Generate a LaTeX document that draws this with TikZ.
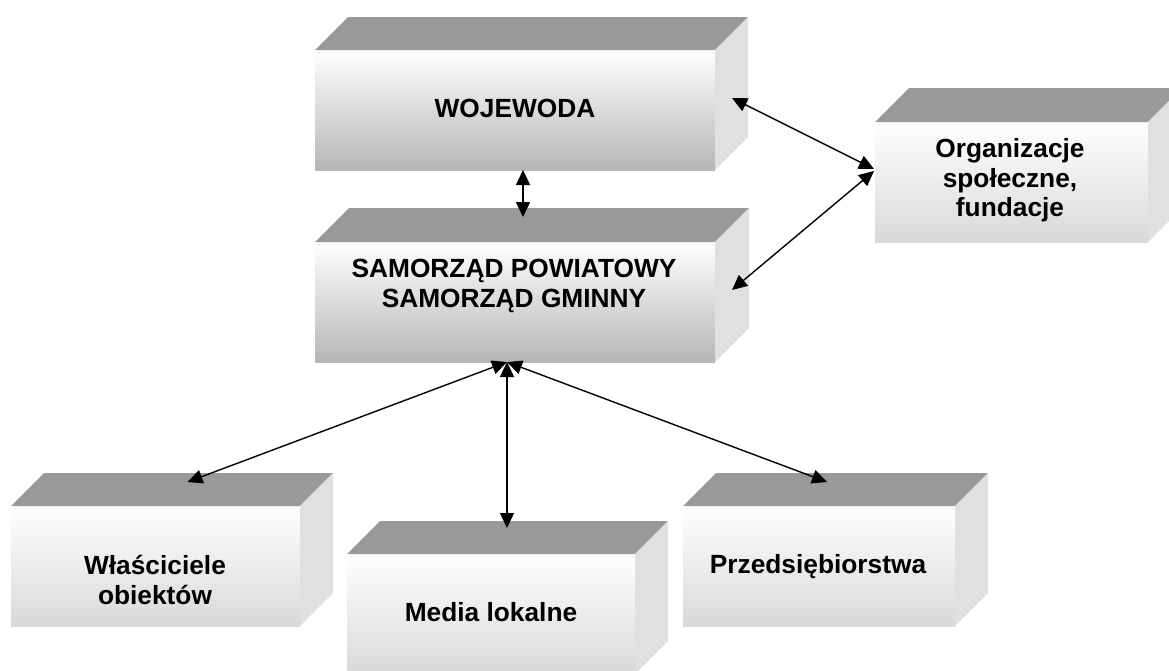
\documentclass[tikz,border=0pt]{standalone}
\usepackage{fontspec}
\setmainfont{Liberation Sans}
\usetikzlibrary{arrows.meta,calc}
\definecolor{topface}{HTML}{999999}
\definecolor{sideface}{HTML}{E0E0E0}
\definecolor{darkbottom}{HTML}{B6B6B6}
\definecolor{lightbottom}{HTML}{D9D9D9}
\tikzset{
  front/.style={rectangle, inner sep=0pt, outer sep=0pt, draw=none, anchor=north west},
  bigfront/.style={front, top color=white, bottom color=darkbottom, minimum width=400pt, minimum height=120pt},
  smallfront/.style={front, top color=white, bottom color=lightbottom, minimum height=120pt},
  lbl/.style={font=\bfseries\fontsize{26.3}{30}\selectfont, inner sep=0pt, anchor=base},
  biarrow/.style={{Triangle[length=15pt,width=14pt]}-{Triangle[length=15pt,width=14pt]}, line width=1.4pt, black},
}
\newcommand\boxfaces[2]{%
  \fill[topface] (#1.north west) -- ++(#2,-#2) -- ([shift={(#2,-#2)}]#1.north east) -- (#1.north east) -- cycle;
  \fill[sideface] (#1.north east) -- ++(#2,-#2) -- ([shift={(#2,-#2)}]#1.south east) -- (#1.south east) -- cycle;
}
\begin{document}
\begin{tikzpicture}[x=1pt,y=-1pt]
\useasboundingbox (0,0) rectangle (1169,670);
\clip (0,0) rectangle (1169,670);

% front faces
\node[bigfront] (wo) at (315,50) {};
\node[bigfront] (sam) at (315,242) {};
\node[smallfront, minimum width=273pt] (org) at (875,122) {};
\node[smallfront, minimum width=289pt] (wla) at (11,506) {};
\node[smallfront, minimum width=288pt] (med) at (347,554) {};
\node[smallfront, minimum width=272pt] (prz) at (683,506) {};

% top and side faces
\boxfaces{wo}{33}
\boxfaces{sam}{34}
\boxfaces{org}{34}
\boxfaces{wla}{33}
\boxfaces{med}{33}
\boxfaces{prz}{33}

% labels
\node[lbl] (wo-t) at (515,117) {WOJEWODA};
\node[lbl] (sam-t1) at (514,277) {SAMORZĄD POWIATOWY};
\node[lbl] (sam-t2) at (514,307) {SAMORZĄD GMINNY};
\node[lbl] (org-t1) at (1010,157) {Organizacje};
\node[lbl] (org-t2) at (1010,187) {społeczne,};
\node[lbl] (org-t3) at (1010,216) {fundacje};
\node[lbl] (wla-t1) at (155,574) {Właściciele};
\node[lbl] (wla-t2) at (155,604) {obiektów};
\node[lbl] (med-t) at (491,621) {Media lokalne};
\node[lbl] (prz-t) at (818,573) {Przedsiębiorstwa};

% connector ends
\coordinate (woB) at ([xshift=8]wo.south);
\coordinate (samT) at ([shift={(8,-25)}]sam.north);
\coordinate (woR) at ([shift={(17,-12)}]wo.east);
\coordinate (samR) at ([shift={(17,-12)}]sam.east);
\coordinate (orgL1) at ([shift={(-1,-13)}]org.west);
\coordinate (orgL2) at ([shift={(-1,-11)}]org.west);
\coordinate (samB) at ([xshift=-8]sam.south);
\coordinate (wlaT) at ([shift={(32,-24)}]wla.north);
\coordinate (medT) at ([shift={(16,-26)}]med.north);
\coordinate (przT) at ([shift={(8,-24)}]prz.north);

% connectors
\draw[biarrow] (woB) -- (samT);
\draw[biarrow] (woR) -- (orgL1);
\draw[biarrow] (samR) -- (orgL2);
\draw[biarrow] (samB) -- (wlaT);
\draw[biarrow] (samB) -- (medT);
\draw[biarrow] (samB) -- (przT);
\end{tikzpicture}
\end{document}
